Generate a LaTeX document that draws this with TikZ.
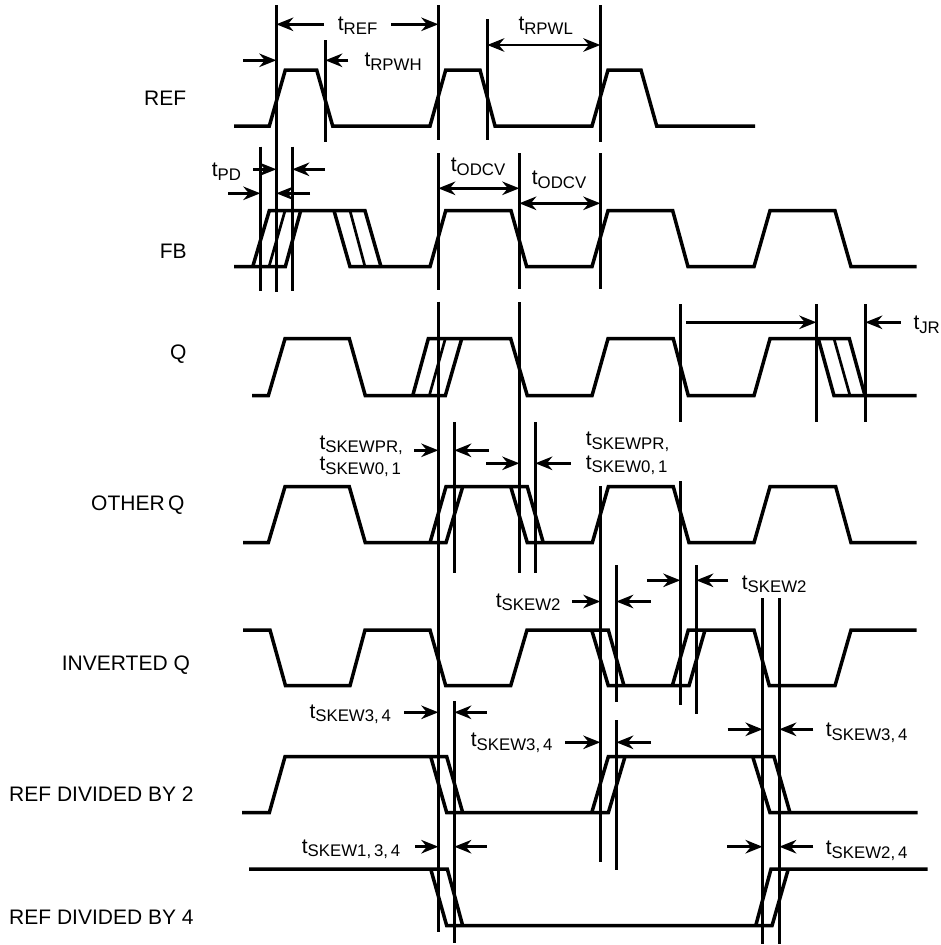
\documentclass[tikz,border=0pt]{standalone}
\usepackage{fontspec}
\setmainfont{Liberation Sans}
\usetikzlibrary{arrows.meta}

\newcommand{\tname}[1]{t\raisebox{-3.7pt}{\fontsize{16.8}{18}\selectfont #1}}

\tikzset{
    wave/.style={line width=3.5pt, line cap=butt, line join=miter},
    edgeline/.style={line width=2.7pt},
    timemark/.style={line width=2.7pt},
    dim/.style={line width=2.7pt, -{Stealth[length=17pt, width=13.5pt, inset=5.5pt]}},
    dimboth/.style={line width=2.7pt, {Stealth[length=17pt, width=13.5pt, inset=5.5pt]}-{Stealth[length=17pt, width=13.5pt, inset=5.5pt]}},
    sig/.style={anchor=base west, inner sep=0pt, font=\fontsize{21}{24}\selectfont},
    tlabel/.style={anchor=base west, inner sep=0pt, font=\fontsize{21}{24}\selectfont}
}

\begin{document}
\begin{tikzpicture}[x=1pt, y=-1pt]
        \useasboundingbox (0,0) rectangle (940,945);

        % signal names
        \node[sig] (nREF) at (144,105) {REF};
        \node[sig] (nFB) at (159.7,258) {FB};
        \node[sig] (nQ) at (170,359) {Q};
        \node[sig] (nOTHER) at (91,510) {OTHER\,Q};
        \node[sig] (nINV) at (61.7,670) {INVERTED Q};
        \node[sig] (nDIVa) at (9,801) {REF DIVIDED BY 2};
        \node[sig] (nDIVb) at (9,924) {REF DIVIDED BY 4};

        % REF
        \draw[wave] (234,126) -- (269.3,126) -- (285.3,70) -- (316.7,70) -- (332.7,126) -- (430,126) -- (445.7,70) -- (480,70) -- (495,126) -- (592,126) -- (608,70) -- (641,70) -- (656.7,126) -- (755,126);

        % FB
        \draw[wave] (234,266.7) -- (285.3,266.7) -- (300.7,210.7);
        \draw[wave] (252.7,266.7) -- (269.3,210.7) -- (365,210.7) -- (381,266.7);
        \draw[edgeline] (269,266.7) -- (285,210.7);
        \draw[wave] (334,210.7) -- (350,266.7) -- (430,266.7) -- (445.7,210.7) -- (511,210.7) -- (526.7,266.7) -- (592,266.7) -- (608,210.7) -- (672.7,210.7) -- (688,266.7) -- (754,266.7) -- (770,210.7) -- (835,210.7) -- (851,266.7) -- (916.7,266.7);
        \draw[edgeline] (350,210.7) -- (365,266.7);

        % Q
        \draw[wave] (252,395.7) -- (268.3,395.7) -- (285,338.7) -- (349.3,338.7) -- (365.3,395.7) -- (445.3,395.7) -- (461.7,338.7);
        \draw[wave] (412.7,395.7) -- (428.3,338.7) -- (510.7,338.7) -- (527.3,395.7) -- (592,395.7) -- (608,338.7) -- (673.3,338.7) -- (688.3,395.7) -- (754,395.7) -- (770,338.7) -- (849.3,338.7) -- (865,395.7);
        \draw[edgeline] (429.3,395.7) -- (445.3,338.7);
        \draw[wave] (818.3,338.7) -- (834,395.7) -- (916.7,395.7);
        \draw[edgeline] (834,338.7) -- (850,395.7);

        % OTHER Q
        \draw[wave] (243,542.7) -- (268.3,542.7) -- (285,486.7) -- (349.3,486.7) -- (365.3,542.7) -- (446,542.7) -- (462.7,486.7);
        \draw[wave] (430,542.7) -- (446,486.7) -- (527.3,486.7) -- (543.3,542.7);
        \draw[wave] (510.7,486.7) -- (527.3,542.7) -- (592.3,542.7) -- (608.3,486.7) -- (673.3,486.7) -- (689,542.7) -- (754,542.7) -- (770,486.7) -- (835.7,486.7) -- (851,542.7) -- (916.7,542.7);

        % INVERTED Q
        \draw[wave] (243,630) -- (270,630) -- (285.5,685.7) -- (350,685.7) -- (365,630) -- (430,630) -- (445.7,685.7) -- (510.7,685.7) -- (527,630) -- (608.3,630) -- (624,685.7);
        \draw[wave] (591.7,630) -- (608.3,685.7) -- (689,685.7) -- (705,630);
        \draw[wave] (672.3,685.7) -- (688.3,630) -- (754,630) -- (769.3,685.7) -- (835,685.7) -- (851,630) -- (916.7,630);

        % REF DIVIDED BY 2
        \draw[wave] (242,812.7) -- (269.3,812.7) -- (285,756.7) -- (446.7,756.7) -- (462.7,812.7);
        \draw[wave] (430.7,756.7) -- (446.7,812.7) -- (608.3,812.7) -- (625,756.7);
        \draw[wave] (591.7,812.7) -- (608.3,756.7) -- (774,756.7) -- (790,812.7);
        \draw[wave] (752.7,756.7) -- (770,812.7) -- (917.7,812.7);

        % REF DIVIDED BY 4
        \draw[wave] (249,869) -- (447.3,869) -- (462.7,925.7);
        \draw[wave] (430.7,869) -- (446.7,925.7) -- (772,925.7) -- (788.3,869);
        \draw[wave] (755.7,925.7) -- (771,869) -- (927.7,869);

        % timing marks
        \draw[timemark] (276.3,5) -- (276.3,291.7);
        \draw[timemark] (325.3,40) -- (325.3,141.7);
        \draw[timemark] (260.3,146.7) -- (260.3,290.7);
        \draw[timemark] (292.3,146.7) -- (292.3,290.7);
        \draw[timemark] (438.3,5) -- (438.3,140);
        \draw[timemark] (438.3,153) -- (438.3,290);
        \draw[timemark] (438.3,301.7) -- (438.3,931.7);
        \draw[timemark] (454.3,422) -- (454.3,572.7);
        \draw[timemark] (454.3,701) -- (454.3,942.7);
        \draw[timemark] (487.3,19) -- (487.3,140);
        \draw[timemark] (519.3,153) -- (519.3,289);
        \draw[timemark] (519.3,302) -- (519.3,572.7);
        \draw[timemark] (535.3,422) -- (535.3,572.7);
        \draw[timemark] (600.3,5) -- (600.3,141.7);
        \draw[timemark] (600.3,153) -- (600.3,289.3);
        \draw[timemark] (600.3,486) -- (600.3,861.7);
        \draw[timemark] (616.3,565) -- (616.3,701.7);
        \draw[timemark] (616.3,720) -- (616.3,870);
        \draw[timemark] (680.3,304) -- (680.3,421.7);
        \draw[timemark] (680.3,481) -- (680.3,705);
        \draw[timemark] (696.3,565) -- (696.3,714.3);
        \draw[timemark] (762.5,598.3) -- (762.5,944);
        \draw[timemark] (779.3,598.3) -- (779.3,944);
        \draw[timemark] (816.3,304) -- (816.3,421.7);
        \draw[timemark] (865.3,304) -- (865.3,421.7);

        % dimension arrows
        \draw[dim] (324,24.3) -- (276.3,24.3);
        \draw[dim] (391,24.3) -- (438.3,24.3);
        \node[tlabel] (tREF) at (337.7,30.3) {\tname{REF}};

        \draw[dim] (243.3,60.3) -- (276.3,60.3);
        \draw[dim] (348.3,60.3) -- (325.3,60.3);
        \node[tlabel] (tRPWH) at (364.3,66.3) {\tname{RPWH}};

        \draw[dimboth] (487.3,45) -- (600.3,45);
        \node[tlabel] (tRPWL) at (518.3,30.3) {\tname{RPWL}};

        \draw[dim] (253,169.3) -- (276.3,169.3);
        \draw[dim] (325,169.3) -- (292.3,169.3);
        \draw[dim] (228,193.3) -- (260.3,193.3);
        \draw[dim] (310,193.3) -- (276.3,193.3);
        \node[tlabel] (tPD) at (211.7,176.3) {\tname{PD}};

        \draw[dimboth] (438.3,188.3) -- (519.3,188.3);
        \node[tlabel] (tODCVa) at (450.7,171.3) {\tname{ODCV}};
        \draw[dimboth] (519.3,203.3) -- (600.3,203.3);
        \node[tlabel] (tODCVb) at (531.7,184.3) {\tname{ODCV}};

        \draw[dim] (686,322.3) -- (816.3,322.3);
        \draw[dim] (900.7,322.3) -- (865.3,322.3);
        \node[tlabel] (tJR) at (913.3,329.3) {\tname{JR}};

        \draw[dim] (414.3,450.3) -- (438.3,450.3);
        \draw[dim] (489,450.3) -- (454.3,450.3);
        \draw[dim] (486,463.3) -- (519.3,463.3);
        \draw[dim] (570.7,463.3) -- (535.3,463.3);
        \node[tlabel] (tSKEWPRa) at (319.3,449) {\tname{SKEWPR,}};
        \node[tlabel] (tSKEWa) at (319.3,470.6) {\tname{SKEW0,\,1}};
        \node[tlabel] (tSKEWPRb) at (585.7,445.6) {\tname{SKEWPR,}};
        \node[tlabel] (tSKEWb) at (585.7,469) {\tname{SKEW0,\,1}};

        \draw[dim] (572.3,601.5) -- (600.3,601.5);
        \draw[dim] (650.7,601.5) -- (616.3,601.5);
        \node[tlabel] (tSKEWc) at (495.7,607) {\tname{SKEW2}};
        \draw[dim] (647.3,580.3) -- (680.3,580.3);
        \draw[dim] (728.3,580.3) -- (696.3,580.3);
        \node[tlabel] (tSKEWd) at (741.7,589) {\tname{SKEW2}};

        \draw[dim] (404.3,712.3) -- (438.3,712.3);
        \draw[dim] (486.7,712.3) -- (454.3,712.3);
        \node[tlabel] (tSKEWe) at (309.3,718) {\tname{SKEW3,\,4}};
        \draw[dim] (565,742.3) -- (600.3,742.3);
        \draw[dim] (651,742.3) -- (616.3,742.3);
        \node[tlabel] (tSKEWf) at (470.7,746.3) {\tname{SKEW3,\,4}};
        \draw[dim] (727.7,729.3) -- (762.5,729.3);
        \draw[dim] (813.3,729.3) -- (779.3,729.3);
        \node[tlabel] (tSKEWg) at (825.7,736.3) {\tname{SKEW3,\,4}};

        \draw[dim] (415,846.7) -- (438.3,846.7);
        \draw[dim] (486.7,846.7) -- (454.3,846.7);
        \node[tlabel] (tSKEWh) at (301.7,853) {\tname{SKEW1,\,3,\,4}};
        \draw[dim] (727,846.7) -- (762.5,846.7);
        \draw[dim] (813.3,846.7) -- (779.3,846.7);
        \node[tlabel] (tSKEWi) at (825.7,854.6) {\tname{SKEW2,\,4}};
\end{tikzpicture}
\end{document}
